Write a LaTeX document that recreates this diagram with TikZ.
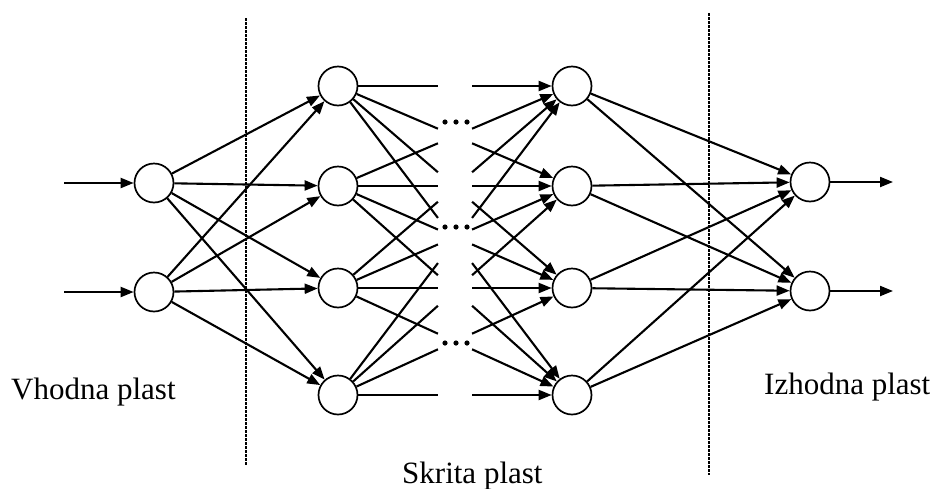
\documentclass[tikz,border=0pt]{standalone}
\usepackage{fontspec}
\setmainfont{Liberation Serif}
\usetikzlibrary{arrows.meta,calc}
\begin{document}
\begin{tikzpicture}[x=1pt,y=-1pt,
  neuron/.style={circle,draw,line width=1.7pt,minimum size=39pt,inner sep=0pt},
  conn/.style={line width=2.1pt},
  arr/.style={conn,-{Triangle[length=13pt,width=10pt]}},
  sepline/.style={line width=1.5pt,dash pattern=on 2.5pt off 1.5pt},
  lbl/.style={font=\fontsize{31}{37}\selectfont,inner sep=0pt,anchor=base west}]
\useasboundingbox (0,0) rectangle (938,488);
% nodes
\node[neuron] (i1) at (154,183) {};
\node[neuron] (i2) at (154,292) {};
\node[neuron] (a1) at (338,86) {};
\node[neuron] (a2) at (338,186) {};
\node[neuron] (a3) at (338,288) {};
\node[neuron] (a4) at (338,395) {};
\node[neuron] (b1) at (572,86) {};
\node[neuron] (b2) at (572,186) {};
\node[neuron] (b3) at (572,288) {};
\node[neuron] (b4) at (572,395) {};
\node[neuron] (o1) at (810,182) {};
\node[neuron] (o2) at (810,291) {};
% free ends
\coordinate (in1) at (64,183);
\coordinate (in2) at (64,292);
\coordinate (out1) at (893,182);
\coordinate (out2) at (893,291);
\coordinate (d1t) at (246,18);
\coordinate (d1b) at (246,465);
\coordinate (d2t) at (709,13);
\coordinate (d2b) at (709,475);
% separators
\draw[sepline] (d1t) -- (d1b);
\draw[sepline] (d2t) -- (d2b);
% input arrows
\draw[arr] (in1) -- (i1);
\draw[arr] (in2) -- (i2);
% input -> hidden 1
\foreach \i in {1,2}{
  \foreach \j in {1,2,3,4}{
    \draw[arr] (i\i) -- (a\j);
  }
}
% hidden 1 -> hidden 2 (broken in the middle)
\foreach \i in {1,2,3,4}{
  \foreach \j in {1,2,3,4}{
    \draw[conn] (a\i) -- ($(a\i.center)!0.427!(b\j.center)$);
    \draw[arr] ($(a\i.center)!0.573!(b\j.center)$) -- (b\j);
  }
}
% hidden 2 -> output
\foreach \i in {1,2,3,4}{
  \foreach \j in {1,2}{
    \draw[arr] (b\i) -- (o\j);
  }
}
% output arrows
\draw[arr] (o1) -- (out1);
\draw[arr] (o2) -- (out2);
% dots
\foreach \yy in {122,227,343}{
  \foreach \xx in {445,456,467}{
    \fill (\xx,\yy) circle (2.6pt);
  }
}
% labels
\node[lbl] (lin) at (11,399) {Vhodna plast};
\node[lbl] (lout) at (764,394) {Izhodna plast};
\node[lbl] (lhid) at (402,483) {Skrita plast};
\end{tikzpicture}
\end{document}
